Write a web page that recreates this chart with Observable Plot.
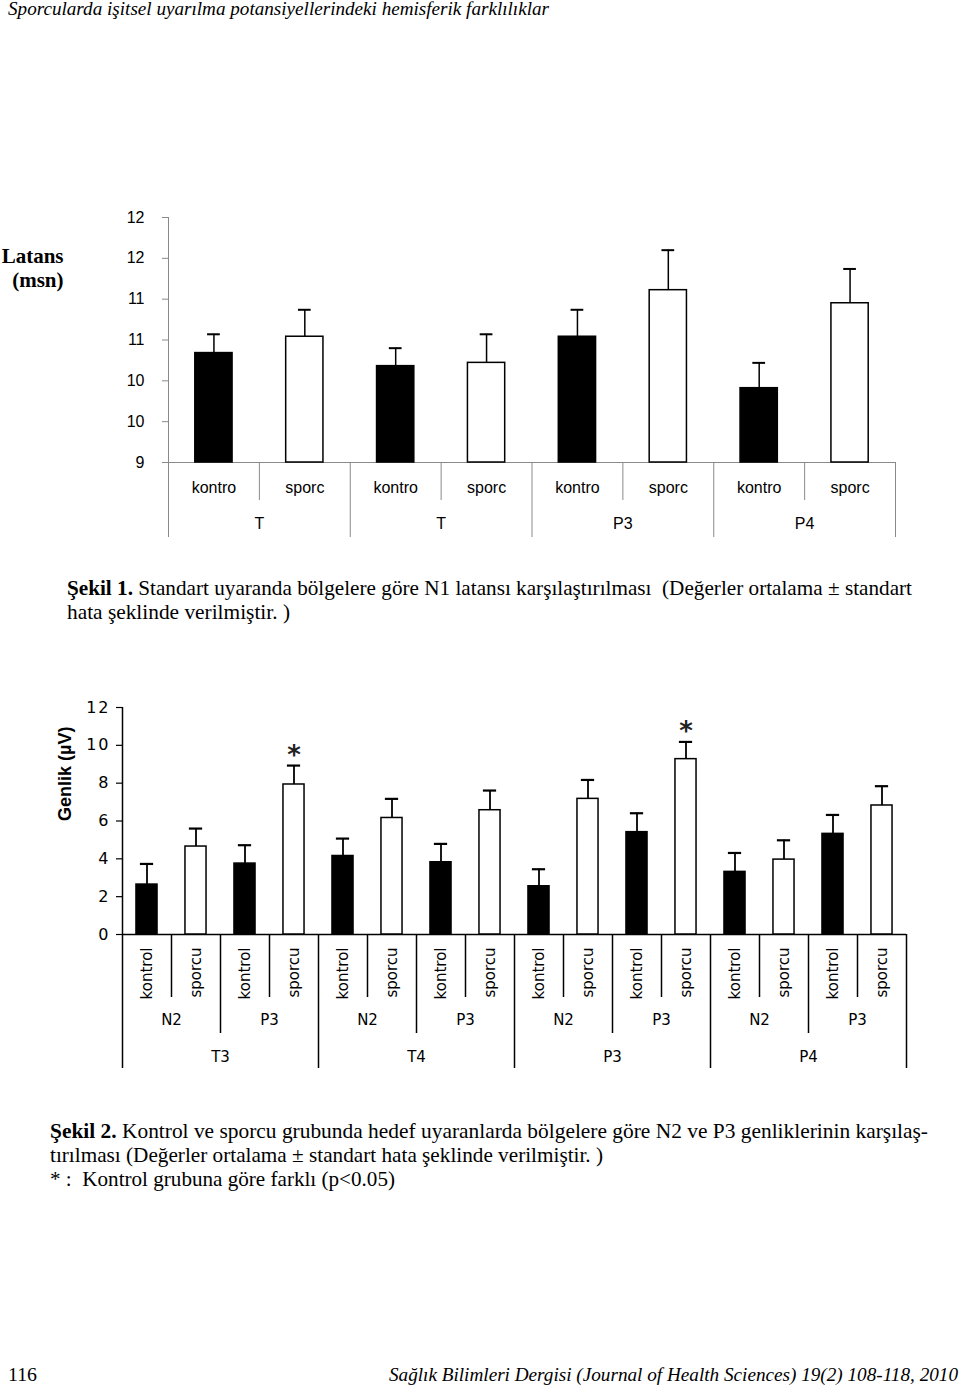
<!DOCTYPE html>
<html>
<head>
<meta charset="utf-8">
<script src="https://cdn.jsdelivr.net/npm/d3@7"></script>
<script src="https://cdn.jsdelivr.net/npm/@observablehq/plot@0.6"></script>
<style>
  html, body { margin: 0; padding: 0; background: #fff; }
  #page { position: relative; width: 960px; height: 1387px; overflow: hidden; background: #fff; color: #000; }
  .t { position: absolute; white-space: nowrap; font-family: "Liberation Serif", "Times New Roman", serif; line-height: 1; transform-origin: 0 0; }
  .fig { position: absolute; left: 0; }
  #fig1 { top: 200px; }
  #fig2 { top: 690px; }
  #fig2 g[aria-label="y-axis tick label"] text { letter-spacing: 2px; }
</style>
</head>
<body>
<div id="page">
  <div class="t" data-x="8" data-b="15" data-w="541" data-fs="18" style="font-style:italic">Sporcularda işitsel uyarılma potansiyellerindeki hemisferik farklılıklar</div>
  <div id="fig1" class="fig"></div>
  <div class="t" data-x="67" data-b="595" data-w="845" data-fs="22"><b>Şekil 1.</b> Standart uyaranda bölgelere göre N1 latansı karşılaştırılması&nbsp; (Değerler ortalama ± standart</div>
  <div class="t" data-x="67" data-b="619" data-w="223" data-fs="22">hata şeklinde verilmiştir. )</div>
  <div id="fig2" class="fig"></div>
  <div class="t" data-x="50" data-b="1138" data-w="878" data-fs="22"><b>Şekil 2.</b> Kontrol ve sporcu grubunda hedef uyaranlarda bölgelere göre N2 ve P3 genliklerinin karşılaş-</div>
  <div class="t" data-x="50" data-b="1162" data-w="553" data-fs="22">tırılması (Değerler ortalama ± standart hata şeklinde verilmiştir. )</div>
  <div class="t" data-x="50" data-b="1186" data-w="345" data-fs="22">* :&nbsp; Kontrol grubuna göre farklı (p&lt;0.05)</div>
  <div class="t" data-x="8" data-b="1381" data-w="29" data-fs="19">116</div>
  <div class="t" data-x="389" data-b="1381" data-w="569" data-fs="19" style="font-style:italic">Sağlık Bilimleri Dergisi (Journal of Health Sciences) 19(2) 108-118, 2010</div>
</div>
<script>
// ---------- Figure 1 data: N1 latency (msn) ----------
const fig1Regions = ["T", "T", "P3", "P4"];
const fig1Groups = ["kontro", "sporc"];
const fig1Mean = [10.34, 10.54, 10.18, 10.22, 10.54, 11.11, 9.91, 10.95];
const fig1Err = [0.23, 0.33, 0.22, 0.35, 0.33, 0.49, 0.31, 0.42];
const fig1Ticks = [9, 9.5, 10, 10.5, 11, 11.5, 12];
const fig1TickLabels = ["9", "10", "10", "11", "11", "12", "12"];

// ---------- Figure 2 data: N2 / P3 amplitude (µV) ----------
const fig2Regions = ["T3", "T4", "P3", "P4"];
const fig2Components = ["N2", "P3"];
const fig2Groups = ["kontrol", "sporcu"];
const fig2Mean = [2.64, 4.65, 3.75, 7.93, 4.15, 6.16, 3.82, 6.57, 2.55, 7.17, 5.41, 9.27, 3.31, 3.96, 5.32, 6.82];
const fig2Err = [1.09, 0.95, 0.97, 1.00, 0.92, 1.01, 0.97, 1.04, 0.90, 1.00, 1.00, 0.91, 1.00, 1.02, 1.00, 1.02];
const fig2Significant = [3, 11];
const fig2Ticks = [0, 2, 4, 6, 8, 10, 12];

// ---------- Figure 1 ----------
{
  const rows = fig1Mean.map((m, i) => ({
    i, mean: m, err: fig1Err[i],
    group: fig1Groups[i % fig1Groups.length],
    region: fig1Regions[Math.floor(i / fig1Groups.length)]
  }));
  const n = rows.length;
  const base = fig1Ticks[0];
  const barHalf = 0.205, capHalf = 0.07;
  const regionRows = fig1Regions.map((r, j) => ({r, c: j * fig1Groups.length + fig1Groups.length / 2}));
  const bounds = d3.range(0, n + 1);
  const majorBounds = bounds.filter(b => b % fig1Groups.length === 0);
  const minorBounds = bounds.filter(b => b % fig1Groups.length !== 0);
  const grey = "#8a8a8a";
  const chart = Plot.plot({
    width: 960, height: 342,
    marginTop: 17, marginBottom: 80, marginLeft: 168, marginRight: 65,
    style: {fontFamily: "'Liberation Sans', Arial, sans-serif", fontSize: "16px", background: "transparent", overflow: "visible"},
    x: {domain: [0, n], axis: null},
    y: {domain: [fig1Ticks[0], fig1Ticks[fig1Ticks.length - 1]], axis: null},
    marks: [
      Plot.axisY({ticks: fig1Ticks, tickFormat: d => fig1TickLabels[fig1Ticks.indexOf(d)], tickSize: 6, tickPadding: 18, stroke: grey, fontSize: 16, label: null}),
      Plot.ruleX([0], {stroke: grey, strokeWidth: 1}),
      Plot.ruleY([base], {stroke: grey, strokeWidth: 1}),
      Plot.ruleX(minorBounds, {x: d => d, y1: base, y2: base, insetBottom: -38, stroke: grey, strokeWidth: 1}),
      Plot.ruleX(majorBounds, {x: d => d, y1: base, y2: base, insetBottom: -75, stroke: grey, strokeWidth: 1}),
      Plot.rect(rows.filter(d => d.group === fig1Groups[0]), {x1: d => d.i + 0.5 - barHalf, x2: d => d.i + 0.5 + barHalf, y1: base, y2: "mean", fill: "#000", stroke: "#000", strokeWidth: 1.5}),
      Plot.rect(rows.filter(d => d.group === fig1Groups[1]), {x1: d => d.i + 0.5 - barHalf, x2: d => d.i + 0.5 + barHalf, y1: base, y2: "mean", fill: "#fff", stroke: "#000", strokeWidth: 1.5}),
      Plot.ruleX(rows, {x: d => d.i + 0.5, y1: "mean", y2: d => d.mean + d.err, stroke: "#000", strokeWidth: 1.5}),
      Plot.ruleY(rows, {y: d => d.mean + d.err, x1: d => d.i + 0.5 - capHalf, x2: d => d.i + 0.5 + capHalf, stroke: "#000", strokeWidth: 2}),
      Plot.text(rows, {x: d => d.i + 0.5, y: base, text: "group", dy: 25, fontSize: 16, lineAnchor: "middle", fill: "#000"}),
      Plot.text(regionRows, {x: "c", y: base, text: "r", dy: 61, fontSize: 16, lineAnchor: "middle", fill: "#000"}),
      Plot.text(["Latans\n(msn)"], {frameAnchor: "top-left", dx: -105, dy: 28, textAnchor: "end", lineAnchor: "top", lineHeight: 1.15, fontFamily: "'Liberation Serif', 'Times New Roman', serif", fontWeight: "bold", fontSize: 21, fill: "#000"})
    ]
  });
  document.getElementById("fig1").appendChild(chart);
}

// ---------- Figure 2 ----------
{
  const gN = fig2Groups.length, cN = fig2Components.length;
  const rows = fig2Mean.map((m, i) => ({
    i, mean: m, err: fig2Err[i],
    group: fig2Groups[i % gN],
    component: fig2Components[Math.floor(i / gN) % cN],
    region: fig2Regions[Math.floor(i / (gN * cN))]
  }));
  const n = rows.length;
  const base = fig2Ticks[0];
  const barHalf = 0.215, capHalf = 0.135;
  const compRows = d3.range(fig2Regions.length * cN).map(k => ({label: fig2Components[k % cN], c: k * gN + gN / 2}));
  const regionRows = fig2Regions.map((r, j) => ({label: r, c: j * gN * cN + gN * cN / 2}));
  const bounds = d3.range(0, n + 1);
  const b1 = bounds.filter(b => b % (gN * cN) === 0);
  const b2 = bounds.filter(b => b % (gN * cN) !== 0 && b % gN === 0);
  const b3 = bounds.filter(b => b % gN !== 0);
  const font = "'DejaVu Sans', Verdana, sans-serif";
  const chart = Plot.plot({
    width: 960, height: 385,
    marginTop: 17, marginBottom: 141, marginLeft: 122, marginRight: 54,
    style: {fontFamily: font, fontSize: "15px", background: "transparent", overflow: "visible"},
    x: {domain: [0, n], axis: null},
    y: {domain: [fig2Ticks[0], fig2Ticks[fig2Ticks.length - 1]], axis: null},
    marks: [
      Plot.axisY({ticks: fig2Ticks, tickSize: 6, tickPadding: 6, stroke: "#000", strokeWidth: 1.2, fontSize: 16, label: null}),
      Plot.ruleX([0], {stroke: "#000", strokeWidth: 1.5}),
      Plot.ruleY([base], {stroke: "#000", strokeWidth: 1.5}),
      Plot.ruleX(b3, {x: d => d, y1: base, y2: base, insetBottom: -63, stroke: "#000", strokeWidth: 1.5}),
      Plot.ruleX(b2, {x: d => d, y1: base, y2: base, insetBottom: -99, stroke: "#000", strokeWidth: 1.5}),
      Plot.ruleX(b1, {x: d => d, y1: base, y2: base, insetBottom: -134, stroke: "#000", strokeWidth: 1.5}),
      Plot.rect(rows.filter(d => d.group === fig2Groups[0]), {x1: d => d.i + 0.5 - barHalf, x2: d => d.i + 0.5 + barHalf, y1: base, y2: "mean", fill: "#000", stroke: "#000", strokeWidth: 1.5}),
      Plot.rect(rows.filter(d => d.group === fig2Groups[1]), {x1: d => d.i + 0.5 - barHalf, x2: d => d.i + 0.5 + barHalf, y1: base, y2: "mean", fill: "#fff", stroke: "#000", strokeWidth: 1.5}),
      Plot.ruleX(rows, {x: d => d.i + 0.5, y1: "mean", y2: d => d.mean + d.err, stroke: "#000", strokeWidth: 1.8}),
      Plot.ruleY(rows, {y: d => d.mean + d.err, x1: d => d.i + 0.5 - capHalf, x2: d => d.i + 0.5 + capHalf, stroke: "#000", strokeWidth: 2.2}),
      Plot.text(rows.filter(d => fig2Significant.includes(d.i)), {x: d => d.i + 0.5, y: d => d.mean + d.err, text: () => "*", dy: -10, fontSize: 26, fontWeight: "bold", lineAnchor: "middle", fill: "#222"}),
      Plot.text(rows, {x: d => d.i + 0.5, y: base, text: "group", rotate: -90, textAnchor: "end", lineAnchor: "middle", dy: 13, fontSize: 15, fill: "#000"}),
      Plot.text(compRows, {x: "c", y: base, text: "label", dy: 86, fontSize: 15, lineAnchor: "middle", fill: "#000"}),
      Plot.text(regionRows, {x: "c", y: base, text: "label", dy: 123, fontSize: 15, lineAnchor: "middle", fill: "#000"}),
      Plot.text(["Genlik (µV)"], {frameAnchor: "left", dx: -57, rotate: -90, fontFamily: "'Liberation Sans', Arial, sans-serif", fontWeight: "bold", fontSize: 18, fill: "#000"})
    ]
  });
  document.getElementById("fig2").appendChild(chart);
}

// ---------- page text layout: baseline placement and width fitting ----------
document.querySelectorAll(".t").forEach(el => {
  const fs = +el.dataset.fs;
  el.style.fontSize = fs + "px";
  el.style.left = el.dataset.x + "px";
  el.style.top = (+el.dataset.b - 0.8375 * fs) + "px";
  const w = el.getBoundingClientRect().width;
  el.style.transform = `scaleX(${+el.dataset.w / w})`;
});
</script>
</body>
</html>
